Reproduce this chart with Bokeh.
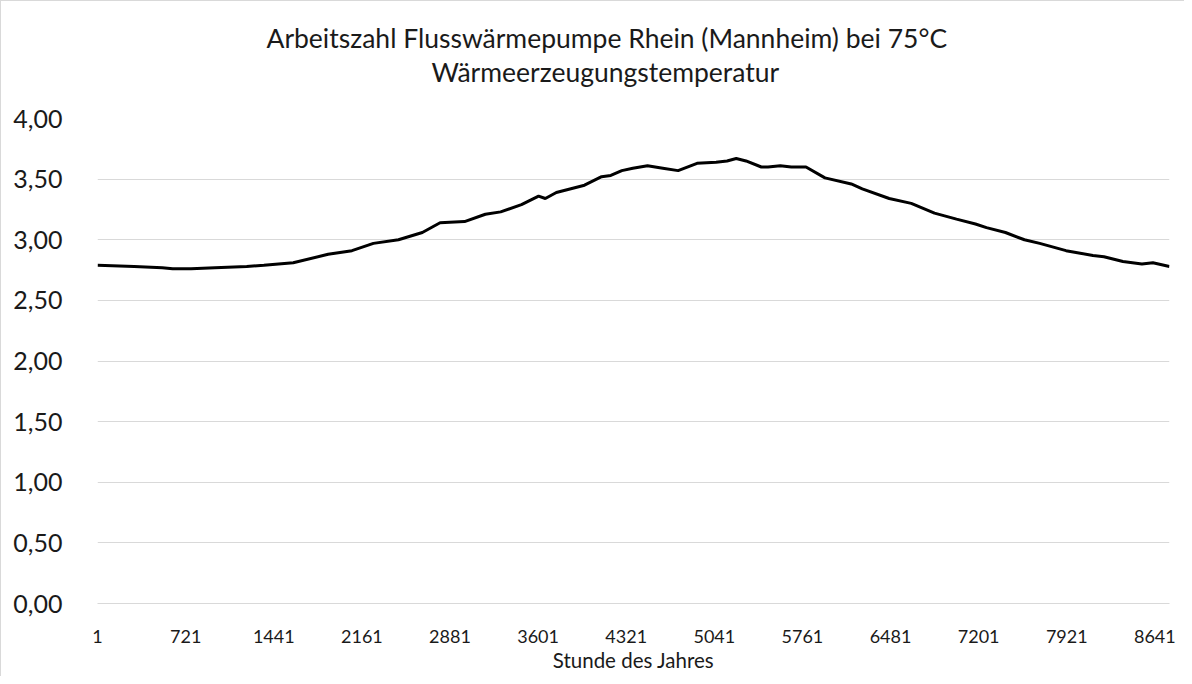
from bokeh.plotting import figure
from bokeh.models import Range1d, FixedTicker, Title
from bokeh.embed import file_html
from bokeh.resources import INLINE

title_line1 = "Arbeitszahl Flusswärmepumpe Rhein (Mannheim) bei 75°C"
title_line2 = "Wärmeerzeugungstemperatur"
x_label = "Stunde des Jahres"

hours = [1, 300, 530, 615, 765, 960, 1220, 1360, 1600, 1885, 2080, 2255, 2460,
         2655, 2800, 3000, 3170, 3295, 3465, 3605, 3660, 3750, 3980, 4120,
         4195, 4285, 4375, 4495, 4620, 4745, 4900, 5055, 5145, 5220, 5300,
         5425, 5480, 5580, 5670, 5790, 5945, 6160, 6250, 6470, 6650, 6840,
         7020, 7175, 7265, 7420, 7575, 7700, 7915, 8135, 8225, 8380, 8535,
         8625, 8760]
cop = [2.79, 2.78, 2.77, 2.76, 2.76, 2.77, 2.78, 2.79, 2.81, 2.88, 2.91, 2.97, 3.00,
       3.06, 3.14, 3.15, 3.21, 3.23, 3.29, 3.36, 3.34, 3.39, 3.45, 3.52,
       3.53, 3.57, 3.59, 3.61, 3.59, 3.57, 3.63, 3.64, 3.65, 3.67, 3.65,
       3.60, 3.60, 3.61, 3.60, 3.60, 3.51, 3.46, 3.42, 3.34, 3.30, 3.22,
       3.17, 3.13, 3.10, 3.06, 3.00, 2.97, 2.91, 2.87, 2.86, 2.82, 2.80,
       2.81, 2.78]

x_ticks = [1, 721, 1441, 2161, 2881, 3601, 4321, 5041, 5761, 6481, 7201, 7921, 8641]
y_ticks = [0.0, 0.5, 1.0, 1.5, 2.0, 2.5, 3.0, 3.5, 4.0]
y_tick_labels = ["0,00", "0,50", "1,00", "1,50", "2,00", "2,50", "3,00", "3,50", "4,00"]

FONT = "Lato"
GRID = "#d9d9d9"
TXT = "#1a1a1a"

p = figure(width=1184, height=676, output_backend="svg", toolbar_location=None,
           x_range=Range1d(0.5, 8760.5), y_range=Range1d(0, 4),
           min_border_left=96, min_border_right=16, min_border_top=117,
           min_border_bottom=74)
p.styles = {"border-top": "1px solid #d9d9d9", "border-left": "1px solid #d9d9d9"}
p.outline_line_color = None
p.background_fill_color = "white"
p.border_fill_color = "white"

p.line(hours, cop, line_color="black", line_width=3)

p.xgrid.grid_line_color = None
p.ygrid.grid_line_color = GRID
p.ygrid.grid_line_width = 1
p.ygrid.ticker = FixedTicker(ticks=y_ticks)

p.yaxis.ticker = FixedTicker(ticks=y_ticks)
p.yaxis.major_label_overrides = {t: l for t, l in zip(y_ticks, y_tick_labels)}
p.yaxis.axis_line_color = None
p.yaxis.major_tick_line_color = None
p.yaxis.minor_tick_line_color = None
p.yaxis.major_label_text_font = FONT
p.yaxis.major_label_text_font_size = "25px"
p.yaxis.major_label_text_color = TXT
p.yaxis.major_label_standoff = 29

p.xaxis.ticker = FixedTicker(ticks=x_ticks)
p.xaxis.axis_line_color = GRID
p.xaxis.major_tick_line_color = None
p.xaxis.minor_tick_line_color = None
p.xaxis.major_label_text_font = FONT
p.xaxis.major_label_text_font_size = "18px"
p.xaxis.major_label_text_color = TXT
p.xaxis.major_label_standoff = 20
p.xaxis.axis_label = x_label
p.xaxis.axis_label_text_font = FONT
p.xaxis.axis_label_text_font_size = "20.5px"
p.xaxis.axis_label_text_font_style = "normal"
p.xaxis.axis_label_text_color = TXT
p.xaxis.axis_label_standoff = 2

p.title = None
t2 = Title(text=title_line2, align="left", offset=334, text_font=FONT,
           text_font_size="26.5px", text_font_style="normal", text_color=TXT,
           standoff=62)
t1 = Title(text=title_line1, align="left", offset=169, text_font=FONT,
           text_font_size="26.5px", text_font_style="normal", text_color=TXT,
           standoff=-62)
p.add_layout(t2, "above")
p.add_layout(t1, "above")

open("out.html", "w").write(file_html(p, INLINE))
